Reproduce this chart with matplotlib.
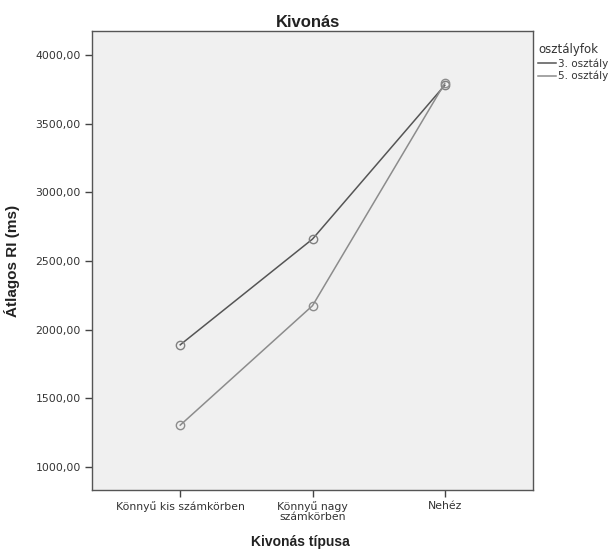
import matplotlib
matplotlib.use("Agg")
import matplotlib.pyplot as plt

categories = ["Könnyű kis számkörben", "Könnyű nagy\nszámkörben", "Nehéz"]
series_names = ["3. osztály", "5. osztály"]
values_3 = [1890, 2660, 3780]
values_5 = [1305, 2175, 3795]
yticks = [1000, 1500, 2000, 2500, 3000, 3500, 4000]
ytick_labels = ["1000,00", "1500,00", "2000,00", "2500,00", "3000,00", "3500,00", "4000,00"]

plt.rcParams['font.family'] = ['Liberation Sans', 'DejaVu Sans']

fig = plt.figure(figsize=(6.15, 5.53), dpi=100)
ax = fig.add_axes([92/615, 1-490/553, (533-92)/615, (490-31)/553])
ax.set_facecolor("#f0f0f0")

x = list(range(len(categories)))
ax.plot(x, values_3, color="#555555", lw=1.1, marker="o", ms=6, mfc="none", mec="#808080", mew=1.0, label=series_names[0])
ax.plot(x, values_5, color="#8c8c8c", lw=1.1, marker="o", ms=6, mfc="none", mec="#8c8c8c", mew=1.0, label=series_names[1])

ax.set_xlim(-0.667, 2.667)
ax.set_ylim(833, 4175)
ax.set_xticks(x)
ax.set_xticklabels(categories, fontsize=7.8, color="#333333", linespacing=0.95, family="DejaVu Sans")
ax.set_yticks(yticks)
ax.set_yticklabels(ytick_labels, fontsize=7.8, color="#333333", family="DejaVu Sans")
ax.tick_params(direction="out", length=5, width=1, color="#444444", pad=3)
for s in ax.spines.values():
    s.set_color("#555555")
    s.set_linewidth(1.0)

ax.set_title("Kivonás", fontsize=12, fontweight="bold", color="#222222", pad=3, x=(308-92)/441)
ax.set_xlabel("Kivonás típusa", fontsize=10, fontweight="bold", color="#222222")
ax.xaxis.label.set_va("center")
ax.xaxis.set_label_coords((300-92)/441, -(542-490)/459)
ax.set_ylabel("Átlagos RI (ms)", fontsize=11, fontweight="bold", color="#222222")
ax.yaxis.set_label_coords(-(92-20)/441, 0.5)

leg = ax.legend(loc="upper left", bbox_to_anchor=(1.0, 0.985), frameon=False, title="osztályfok",
                prop={"family": "DejaVu Sans", "size": 7.5}, handlelength=1.7, handletextpad=0.2,
                labelspacing=0.2, borderaxespad=0.1, markerscale=0)
leg.get_title().set_fontsize(8.5)
leg.get_title().set_family("DejaVu Sans")
leg.get_title().set_color("#333333")
for t in leg.get_texts():
    t.set_color("#333333")
for h in leg.legend_handles:
    h.set_marker("")
leg._legend_box.align = "left"

fig.savefig("out.png", dpi=100, facecolor="white")
